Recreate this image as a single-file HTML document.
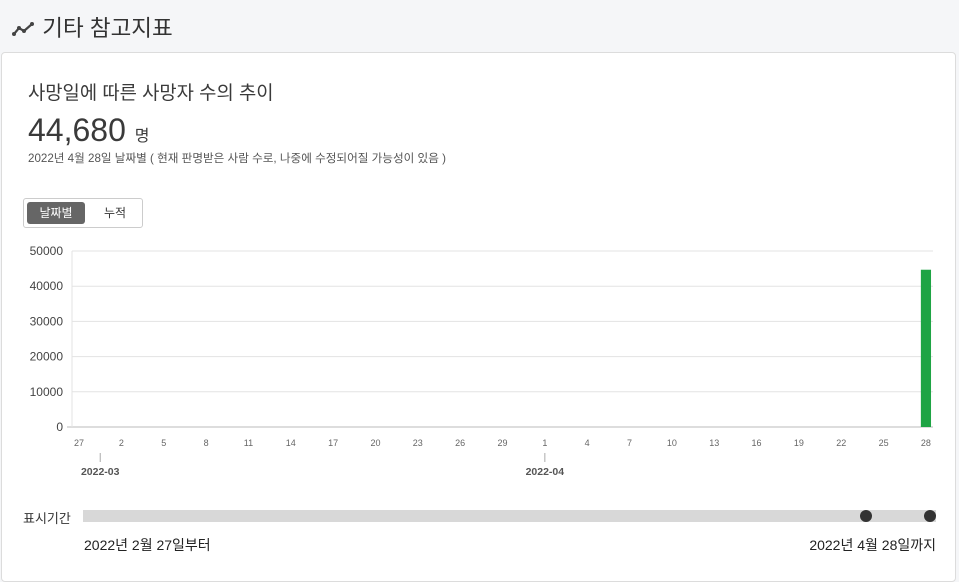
<!DOCTYPE html>
<html><head><meta charset="utf-8"><style>
body{margin:0;width:959px;height:570px;background:#f5f6f8;font-family:"Liberation Sans","Noto Sans CJK KR",sans-serif;overflow:hidden;position:relative}
.abs{position:absolute}
#card{left:1px;top:52px;width:955px;height:530px;background:#fff;border:1px solid #dcdcdc;border-radius:4px;box-sizing:border-box}
</style></head><body>
<div class="abs" style="left:12px;top:11px;font-size:22.5px;color:#333">
<svg width="24" height="16" viewBox="0 0 24 16" style="vertical-align:-1px"><polyline points="2,13 7,7 12,10 20,3" fill="none" stroke="#444" stroke-width="2.2"/><circle cx="2" cy="13" r="2" fill="#444"/><circle cx="7" cy="7" r="2" fill="#444"/><circle cx="12" cy="10" r="2" fill="#444"/><circle cx="20" cy="3" r="2" fill="#444"/></svg> 기타 참고지표</div>
<div id="card" class="abs"></div>
<div class="abs" style="left:28px;top:78px;font-size:18.8px;color:#3a3a3a">사망일에 따른 사망자 수의 추이</div>
<div class="abs" style="left:28px;top:112px;font-size:32px;color:#3a3a3a">44,680 <span style="font-size:16px">명</span></div>
<div class="abs" style="left:28px;top:150px;font-size:11.6px;color:#555">2022년 4월 28일 날짜별 ( 현재 판명받은 사람 수로, 나중에 수정되어질 가능성이 있음 )</div>
<div class="abs" style="left:23px;top:198px;width:120px;height:30px;border:1px solid #ccc;border-radius:3px;box-sizing:border-box">
<div class="abs" style="left:3px;top:3px;width:58px;height:22px;background:#666;color:#fff;border-radius:3px;font-size:12px;text-align:center;line-height:22px">날짜별</div>
<div class="abs" style="left:62px;top:3px;width:58px;height:22px;color:#333;font-size:12px;text-align:center;line-height:22px">누적</div>
</div>
<svg class="abs" style="left:0;top:0" width="959" height="570" id="chart"></svg>
<div class="abs" style="left:23px;top:508px;font-size:13px;color:#333">표시기간</div>
<div class="abs" style="left:83px;top:510px;width:853px;height:12px;background:#d8d8d8"></div>
<div class="abs" style="left:860px;top:510px;width:12px;height:12px;border-radius:50%;background:#333"></div>
<div class="abs" style="left:924px;top:510px;width:12px;height:12px;border-radius:50%;background:#333"></div>
<div class="abs" style="left:84px;top:535px;font-size:14px;color:#222">2022년 2월 27일부터</div>
<div class="abs" style="right:23px;top:535px;font-size:14px;color:#222">2022년 4월 28일까지</div>
<script>
const yTicks=[0,10000,20000,30000,40000,50000];
const dayLabels=[27,28,1,2,3,4,5,6,7,8,9,10,11,12,13,14,15,16,17,18,19,20,21,22,23,24,25,26,27,28,29,30,31,1,2,3,4,5,6,7,8,9,10,11,12,13,14,15,16,17,18,19,20,21,22,23,24,25,26,27,28];
const values=[0,0,0,0,0,0,0,0,0,0,0,0,0,0,0,0,0,0,0,0,0,0,0,0,0,0,0,0,0,0,0,0,0,0,0,0,0,0,0,0,0,0,0,0,0,0,0,0,0,0,0,0,0,0,0,0,0,0,0,0,44680];
const monthLabels=["2022-03","2022-04"];
const monthStarts=[1.5,33];
const svg=document.getElementById('chart');const NS='http://www.w3.org/2000/svg';
const L=72,R=933,T=251,B=427,yMax=50000;
const bw=(R-L)/values.length;
const x=i=>L+(i+0.5)*bw;const y=v=>B-(v/yMax)*(B-T);
function mk(t,a,txt){const e=document.createElementNS(NS,t);for(const k in a)e.setAttribute(k,a[k]);if(txt!==undefined)e.textContent=txt;svg.appendChild(e);return e;}
yTicks.forEach(v=>{
const g=mk('line',{x1:v===0?67:L,x2:R,y1:y(v),y2:y(v),stroke:v===0?'#bbb':'#e3e3e3'});


const t=mk('text',{x:63,y:y(v)+4,'text-anchor':'end','font-size':12,fill:'#444'},v);


});
const ax=mk('line',{x1:L,x2:L,y1:T,y2:B,stroke:'#e3e3e3'});


dayLabels.forEach((d,i)=>{if(i%3)return;
const t=mk('text',{x:x(i),y:446,'text-anchor':'middle','font-size':9,fill:'#666'},d);


});
monthLabels.forEach((m,k)=>{const xi=x(monthStarts[k]);
const l=mk('line',{x1:xi,x2:xi,y1:453,y2:462,stroke:'#aaa'});


const t=mk('text',{x:xi,y:475,'text-anchor':'middle','font-size':10.5,'font-weight':'bold',fill:'#555'},m);


});
values.forEach((v,i)=>{if(!v)return;
const r=mk('rect',{x:x(i)-bw*0.36,y:y(v),width:bw*0.72,height:B-y(v),fill:'#1ea444'});


});
</script>
</body></html>
